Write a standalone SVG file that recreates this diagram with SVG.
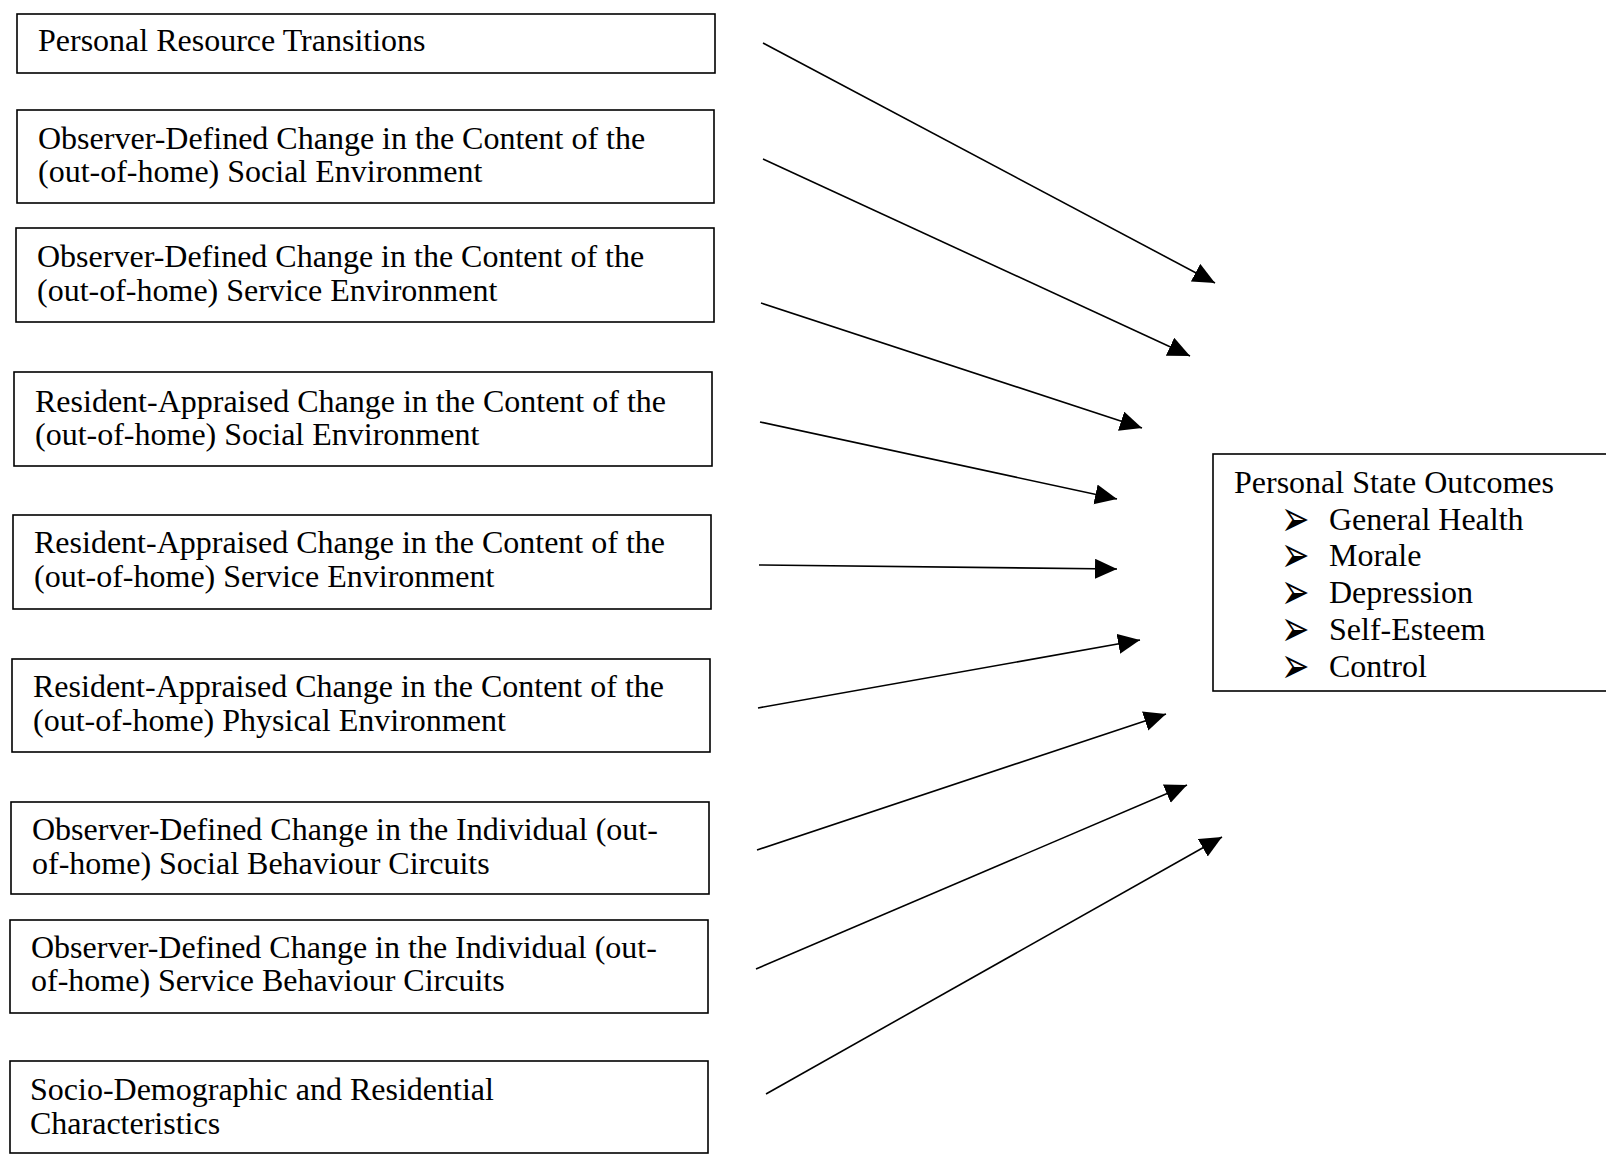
<svg xmlns="http://www.w3.org/2000/svg" width="1606" height="1156" viewBox="0 0 1606 1156">
<style>
.box{fill:#fff;stroke:#000;stroke-width:1.6}
.t{font-family:"Liberation Serif","Times New Roman",serif;font-size:32px;fill:#000}
.b{font-family:"DejaVu Sans",sans-serif;font-size:34px;fill:#000}
.c{stroke:#000;stroke-width:1.6;fill:none;marker-end:url(#ah)}
</style>
<defs>
<marker id="ah" markerUnits="userSpaceOnUse" markerWidth="24" markerHeight="22" refX="22" refY="10" orient="auto">
<path d="M0,0 L22,10 L0,20 Z" fill="#000"/>
</marker>
</defs>
<rect width="1606" height="1156" fill="#fff"/>
<g id="n1"><rect class="box" x="17" y="14" width="698" height="59"/><text class="t" x="38" y="51">Personal Resource Transitions</text></g>
<g id="n2"><rect class="box" x="17" y="110" width="697" height="93"/><text class="t" x="38" y="149">Observer-Defined Change in the Content of the</text><text class="t" x="38" y="182">(out-of-home) Social Environment</text></g>
<g id="n3"><rect class="box" x="16" y="228" width="698" height="94"/><text class="t" x="37" y="267">Observer-Defined Change in the Content of the</text><text class="t" x="37" y="301">(out-of-home) Service Environment</text></g>
<g id="n4"><rect class="box" x="14" y="372" width="698" height="94"/><text class="t" x="35" y="412">Resident-Appraised Change in the Content of the</text><text class="t" x="35" y="445">(out-of-home) Social Environment</text></g>
<g id="n5"><rect class="box" x="13" y="515" width="698" height="94"/><text class="t" x="34" y="553">Resident-Appraised Change in the Content of the</text><text class="t" x="34" y="587">(out-of-home) Service Environment</text></g>
<g id="n6"><rect class="box" x="12" y="659" width="698" height="93"/><text class="t" x="33" y="697">Resident-Appraised Change in the Content of the</text><text class="t" x="33" y="731">(out-of-home) Physical Environment</text></g>
<g id="n7"><rect class="box" x="11" y="802" width="698" height="92"/><text class="t" x="32" y="840">Observer-Defined Change in the Individual (out-</text><text class="t" x="32" y="874">of-home) Social Behaviour Circuits</text></g>
<g id="n8"><rect class="box" x="10" y="920" width="698" height="93"/><text class="t" x="31" y="958">Observer-Defined Change in the Individual (out-</text><text class="t" x="31" y="991">of-home) Service Behaviour Circuits</text></g>
<g id="n9"><rect class="box" x="10" y="1061" width="698" height="92"/><text class="t" x="30" y="1100">Socio-Demographic and Residential</text><text class="t" x="30" y="1134">Characteristics</text></g>
<g id="out"><rect class="box" x="1213" y="454" width="400" height="237"/>
<text class="t" x="1234" y="493">Personal State Outcomes</text>
<text class="b" transform="translate(1281,536) scale(1,1.5)">➢</text><text class="t" x="1329" y="530">General Health</text>
<text class="b" transform="translate(1281,572) scale(1,1.5)">➢</text><text class="t" x="1329" y="566">Morale</text>
<text class="b" transform="translate(1281,609) scale(1,1.5)">➢</text><text class="t" x="1329" y="603">Depression</text>
<text class="b" transform="translate(1281,646) scale(1,1.5)">➢</text><text class="t" x="1329" y="640">Self-Esteem</text>
<text class="b" transform="translate(1281,683) scale(1,1.5)">➢</text><text class="t" x="1329" y="677">Control</text>
</g>
<g id="connectors">
<line class="c" x1="763" y1="43" x2="1215" y2="283"/>
<line class="c" x1="763" y1="159" x2="1190" y2="356"/>
<line class="c" x1="761" y1="303" x2="1142" y2="428"/>
<line class="c" x1="760" y1="422" x2="1117" y2="499"/>
<line class="c" x1="759" y1="565" x2="1117" y2="569"/>
<line class="c" x1="758" y1="708" x2="1140" y2="640"/>
<line class="c" x1="757" y1="850" x2="1166" y2="714"/>
<line class="c" x1="756" y1="969" x2="1187" y2="785"/>
<line class="c" x1="766" y1="1094" x2="1222" y2="837"/>
</g>
</svg>
